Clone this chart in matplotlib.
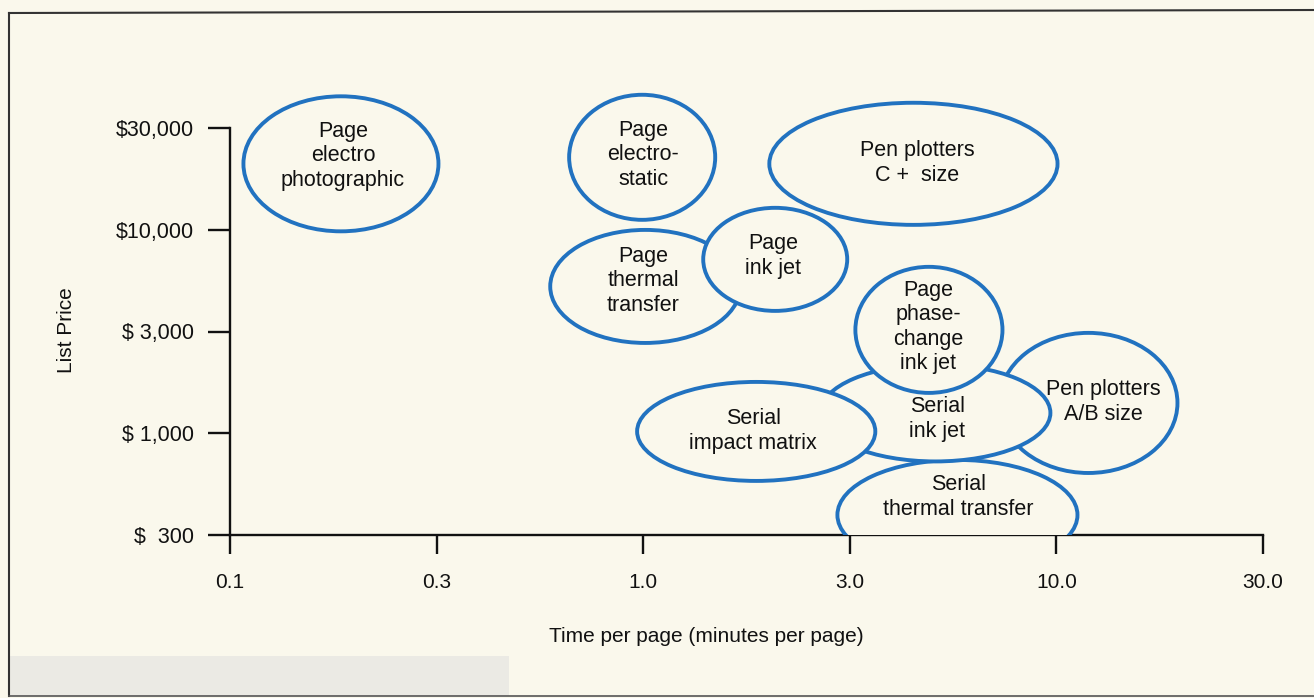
import matplotlib.pyplot as plt
from matplotlib.patches import Ellipse, Rectangle

# tick values (axis is drawn with equal spacing between listed ticks)
x_ticks = ["0.1", "0.3", "1.0", "3.0", "10.0", "30.0"]
y_ticks = ["$  300", "$ 1,000", "$ 3,000", "$10,000", "$30,000"]

# printer classes, in tick-index units: centre, width, height
names = ["Page\nelectro\nphotographic", "Page\nelectro-\nstatic", "Pen plotters\nC +  size",
         "Page\nthermal\ntransfer", "Page\nink jet", "Page\nphase-\nchange\nink jet",
         "Pen plotters\nA/B size", "Serial\nink jet", "Serial\nimpact matrix",
         "Serial\nthermal transfer"]
cx = [0.537, 1.995, 3.308, 2.010, 2.639, 3.383, 4.155, 3.414, 2.547, 3.521]
cy = [3.648, 3.712, 3.648, 2.443, 2.709, 2.016, 1.298, 1.200, 1.018, 0.197]
w = [0.944, 0.707, 1.395, 0.920, 0.697, 0.712, 0.862, 1.114, 1.153, 1.162]
h = [1.327, 1.229, 1.200, 1.111, 1.013, 1.239, 1.377, 0.954, 0.973, 1.082]
# label centres
tx = [0.547, 2.000, 3.327, 2.000, 2.630, 3.380, 4.228, 3.424, 2.533, 3.525]
ty = [3.727, 3.736, 3.658, 2.498, 2.743, 2.045, 1.308, 1.141, 1.023, 0.374]

# stacking, bottom first
order = [0, 1, 2, 3, 4, 9, 6, 7, 8, 5]

bg = "#faf8ec"
blue = "#2172c0"
ink = "#111111"
plt.rcParams["font.family"] = ["Liberation Sans", "DejaVu Sans"]

fig = plt.figure(figsize=(13.14, 6.98), dpi=100)
fig.patch.set_facecolor(bg)

# scan frame and grey band at the bottom
fig.add_artist(Rectangle((9 / 1314, 2 / 698), 500 / 1314, 40 / 698, transform=fig.transFigure,
                         facecolor="#ebeae4", edgecolor="none", zorder=0))
fig.add_artist(plt.Line2D([9 / 1314, 9 / 1314], [2 / 698, 685 / 698], transform=fig.transFigure,
                          color="#333333", lw=1.5))
fig.add_artist(plt.Line2D([9 / 1314, 1], [685 / 698, 688 / 698], transform=fig.transFigure,
                          color="#333333", lw=1.5))
fig.add_artist(plt.Line2D([9 / 1314, 1], [2 / 698, 2 / 698], transform=fig.transFigure,
                          color="#555555", lw=1.2))

ax = fig.add_axes([230 / 1314, 163 / 698, 1033 / 1314, 407 / 698])
ax.patch.set_alpha(0)
ax.set_xlim(0, len(x_ticks) - 1)
ax.set_ylim(0, len(y_ticks) - 1)

for z, i in enumerate(order):
    e = Ellipse((cx[i], cy[i]), w[i], h[i], facecolor=bg, edgecolor=blue, lw=2.8, zorder=2 + z)
    e.set_clip_on(names[i].startswith("Serial\nthermal"))
    ax.add_patch(e)
    ax.text(tx[i], ty[i], names[i], ha="center", va="center", fontsize=15.5, color=ink,
            linespacing=1.22, zorder=2 + z)

for s in ["top", "right"]:
    ax.spines[s].set_visible(False)
for s in ["left", "bottom"]:
    ax.spines[s].set_linewidth(1.7)
    ax.spines[s].set_color(ink)
    ax.spines[s].set_zorder(1)

ax.set_xticks(range(len(x_ticks)))
ax.set_xticklabels(x_ticks)
ax.set_yticks(range(len(y_ticks)))
ax.set_yticklabels(y_ticks)
ax.tick_params(axis="x", length=14, width=1.7, pad=13, labelsize=15, colors=ink)
ax.tick_params(axis="y", length=16, width=1.7, pad=10, labelsize=15.5, colors=ink)

fig.text(706 / 1314, 1 - 636 / 698, "Time per page (minutes per page)", ha="center", va="center",
         fontsize=15, color=ink)
fig.text(66 / 1314, 1 - 330 / 698, "List Price", ha="center", va="center", rotation=90,
         fontsize=15, color=ink)

fig.savefig("out.png", dpi=100, facecolor=bg)
